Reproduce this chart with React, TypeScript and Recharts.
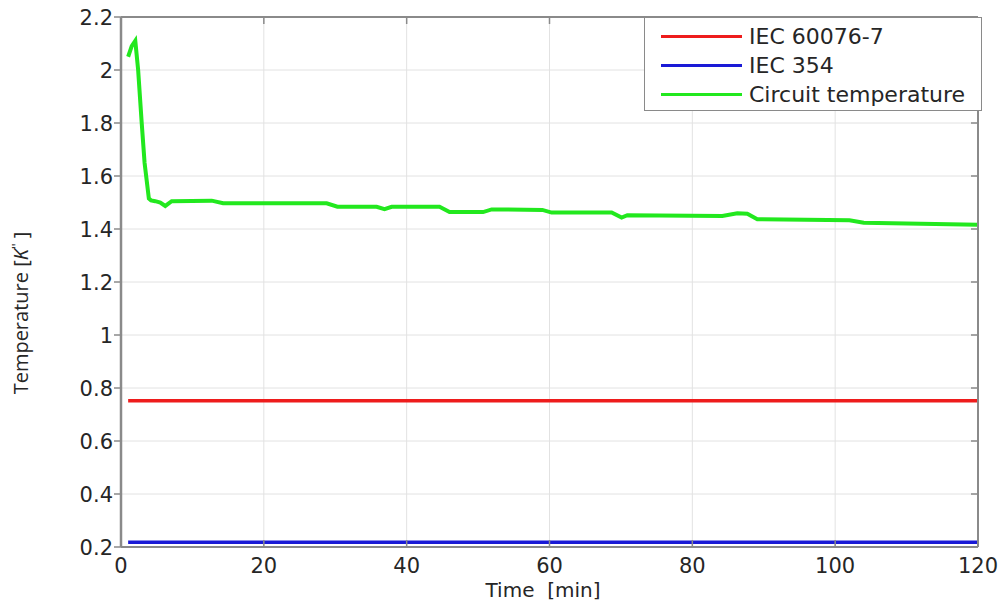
import React from 'react';
import { LineChart, Line, XAxis, YAxis, CartesianGrid, Legend } from 'recharts';

const TIME_TICKS = [0, 20, 40, 60, 80, 100, 120];
const TEMP_TICKS = [0.2, 0.4, 0.6, 0.8, 1.0, 1.2, 1.4, 1.6, 1.8, 2.0, 2.2];

const IEC60076_TIME = [1, 120];
const IEC60076_VALUES = [0.752, 0.752];

const IEC354_TIME = [1, 120];
const IEC354_VALUES = [0.218, 0.218];

const CIRCUIT_TIME = [
  1, 1.5, 2, 2.4, 2.9, 3.3, 3.9, 4.2, 4.8, 5.5, 6.2, 7.1, 12.7, 14.3, 28.8, 30.3, 35.8,
  36.9, 37.9, 44.6, 46, 50.7, 51.9, 59, 60.3, 68.7, 70.1, 70.9, 84.2, 86.3, 87.7, 89.1,
  102, 104, 120,
];
const CIRCUIT_VALUES = [
  2.05, 2.09, 2.11, 2.0, 1.8, 1.65, 1.515, 1.508, 1.505, 1.5, 1.487, 1.505, 1.507, 1.497,
  1.497, 1.484, 1.484, 1.475, 1.484, 1.484, 1.464, 1.464, 1.474, 1.472, 1.462, 1.462,
  1.443, 1.452, 1.449, 1.459, 1.458, 1.437, 1.433, 1.424, 1.416,
];

const SERIES_NAMES = ['IEC 60076-7', 'IEC 354', 'Circuit temperature'];
const SERIES_COLORS = ['#ee1c1c', '#1a1ad6', '#22e81e'];

const toRows = (times: number[], values: number[]) =>
  times.map((t, i) => ({ t, v: values[i] }));

const iec60076Data = toRows(IEC60076_TIME, IEC60076_VALUES);
const iec354Data = toRows(IEC354_TIME, IEC354_VALUES);
const circuitData = toRows(CIRCUIT_TIME, CIRCUIT_VALUES);

const AXIS_COLOR = '#8a8a8a';
const TEXT_COLOR = '#262626';
const TICK_FONT = '"DejaVu Sans", sans-serif';

const fmt = (v: number) => String(parseFloat(v.toFixed(2)));

const BottomTick = (props: any) => {
  const { x, y, payload } = props;
  return (
    <g>
      <line x1={x} x2={x} y1={y} y2={y - 7} stroke={AXIS_COLOR} strokeWidth={1.5} />
      <text x={x} y={y + 26} textAnchor="middle" fontSize={21} fontFamily={TICK_FONT} fill={TEXT_COLOR}>
        {fmt(payload.value)}
      </text>
    </g>
  );
};

const LeftTick = (props: any) => {
  const { x, y, payload } = props;
  return (
    <g>
      <line x1={x} x2={x - 7} y1={y} y2={y} stroke={AXIS_COLOR} strokeWidth={1.5} />
      <text x={x - 8} y={y} dy="0.36em" textAnchor="end" fontSize={21} fontFamily={TICK_FONT} fill={TEXT_COLOR}>
        {fmt(payload.value)}
      </text>
    </g>
  );
};

const TopTick = (props: any) => {
  const { x, y } = props;
  return <line x1={x} x2={x} y1={y} y2={y + 7} stroke={AXIS_COLOR} strokeWidth={1.5} />;
};

const RightTick = (props: any) => {
  const { x, y } = props;
  return <line x1={x} x2={x - 7} y1={y} y2={y} stroke={AXIS_COLOR} strokeWidth={1.5} />;
};

const YLabel = () => (
  <text
    x={28}
    y={313}
    transform="rotate(-90 28 313)"
    textAnchor="middle"
    fontSize={20}
    fontFamily='"Open Sans", sans-serif'
    fill={TEXT_COLOR}
  >
    Temperature [<tspan fontStyle="italic">K</tspan>
    <tspan dy={-7} fontSize={13}>''</tspan>
    <tspan dy={7}> ]</tspan>
  </text>
);

const XLabel = () => (
  <text
    x={543}
    y={597}
    textAnchor="middle"
    fontSize={20}
    fontFamily={TICK_FONT}
    fill={TEXT_COLOR}
    style={{ whiteSpace: 'pre' }}
  >
    {'Time  [min]'}
  </text>
);

const LegendBox = (props: any) => {
  const items = [...(props.payload || [])].sort(
    (a: any, b: any) => SERIES_NAMES.indexOf(a.value) - SERIES_NAMES.indexOf(b.value)
  );
  return (
    <div
      style={{
        boxSizing: 'border-box',
        width: 338,
        height: 94,
        border: `1.5px solid ${AXIS_COLOR}`,
        background: '#fff',
        paddingTop: 4,
        paddingLeft: 16,
      }}
    >
      {items.map((item: any) => (
        <div key={item.value} style={{ display: 'flex', alignItems: 'center', height: 29 }}>
          <div style={{ width: 81, height: 3, background: item.color, marginRight: 7 }} />
          <span style={{ fontSize: 22, fontFamily: TICK_FONT, color: TEXT_COLOR, lineHeight: '29px' }}>
            {item.value}
          </span>
        </div>
      ))}
    </div>
  );
};

export default function App() {
  return (
    <div style={{ position: 'absolute', left: 0, top: 0, width: 1003, height: 602, background: '#fff' }}>
      <LineChart width={1003} height={602} margin={{ top: 16, right: 24, bottom: 25, left: 61 }}>
        <CartesianGrid stroke="#e2e2e2" strokeWidth={1} />
        <XAxis
          dataKey="t"
          type="number"
          domain={[0, 120]}
          ticks={TIME_TICKS}
          height={30}
          tickSize={0}
          tickMargin={0}
          tickLine={false}
          axisLine={{ stroke: AXIS_COLOR, strokeWidth: 2 }}
          tick={<BottomTick />}
          interval={0}
          allowDataOverflow
          label={<XLabel />}
        />
        <XAxis
          xAxisId="top"
          orientation="top"
          dataKey="t"
          type="number"
          domain={[0, 120]}
          ticks={TIME_TICKS}
          height={1}
          tickSize={0}
          tickMargin={0}
          tickLine={false}
          axisLine={{ stroke: AXIS_COLOR, strokeWidth: 2 }}
          tick={<TopTick />}
          interval={0}
          allowDataOverflow
        />
        <YAxis
          type="number"
          domain={[0.2, 2.2]}
          ticks={TEMP_TICKS}
          width={60}
          tickSize={0}
          tickMargin={0}
          tickLine={false}
          axisLine={{ stroke: AXIS_COLOR, strokeWidth: 2.5 }}
          tick={<LeftTick />}
          interval={0}
          allowDataOverflow
          label={<YLabel />}
        />
        <YAxis
          yAxisId="right"
          orientation="right"
          type="number"
          domain={[0.2, 2.2]}
          ticks={TEMP_TICKS}
          width={1}
          tickSize={0}
          tickMargin={0}
          tickLine={false}
          axisLine={{ stroke: AXIS_COLOR, strokeWidth: 2 }}
          tick={<RightTick />}
          interval={0}
          allowDataOverflow
        />
        <Legend
          layout="vertical"
          align="center"
          verticalAlign="middle"
          content={<LegendBox />}
          wrapperStyle={{ position: 'absolute', left: 644, top: 17, width: 338, height: 94, margin: 0 }}
        />
        <Line
          data={iec60076Data}
          dataKey="v"
          name={SERIES_NAMES[0]}
          stroke={SERIES_COLORS[0]}
          strokeWidth={3.5}
          dot={false}
          type="linear"
          isAnimationActive={false}
        />
        <Line
          data={iec354Data}
          dataKey="v"
          name={SERIES_NAMES[1]}
          stroke={SERIES_COLORS[1]}
          strokeWidth={3.5}
          dot={false}
          type="linear"
          isAnimationActive={false}
        />
        <Line
          data={circuitData}
          dataKey="v"
          name={SERIES_NAMES[2]}
          stroke={SERIES_COLORS[2]}
          strokeWidth={4}
          dot={false}
          type="linear"
          isAnimationActive={false}
        />
      </LineChart>
    </div>
  );
}
